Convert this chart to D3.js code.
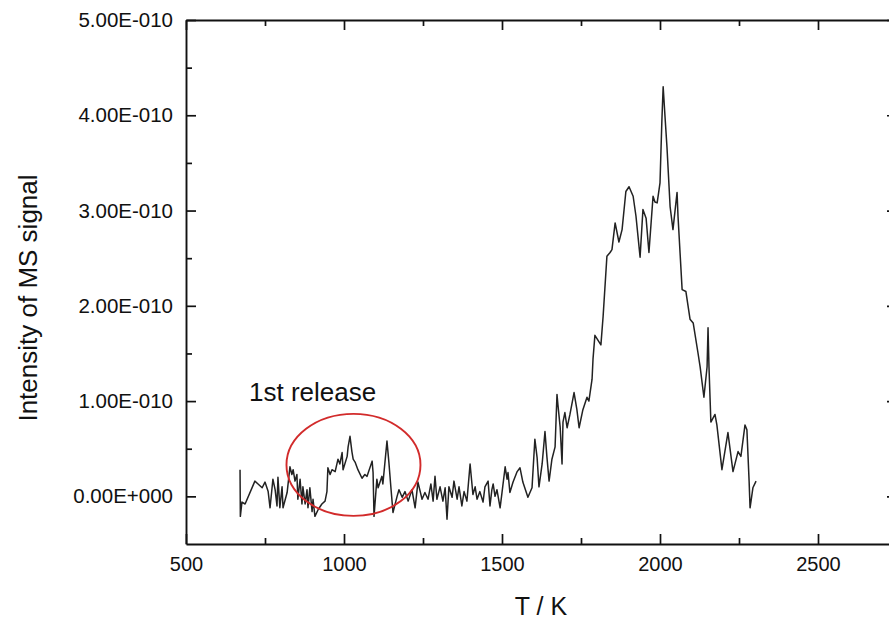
<!DOCTYPE html>
<html>
<head>
<meta charset="utf-8">
<script src="https://cdn.jsdelivr.net/npm/d3@7"></script>
<style>
  html, body { margin: 0; padding: 0; background: white; overflow: hidden; }
  text { font-family: "Liberation Sans", Arial, sans-serif; fill: #111; }
</style>
</head>
<body>
<div class="graph-container"></div>
<script>
// temperature (K)
var tempK = [671, 672, 677, 687, 718, 728, 741, 750, 760, 766, 775, 782, 788, 791, 797, 804, 807, 820, 829, 835,
  839, 845, 851, 854, 861, 867, 870, 877, 883, 886, 892, 899, 902, 908, 918, 930, 940, 946, 949, 956,
  962, 972, 981, 987, 994, 997, 1010, 1013, 1019, 1025, 1029, 1035, 1044, 1057, 1066, 1073, 1089, 1092, 1095, 1104,
  1108, 1120, 1123, 1136, 1142, 1149, 1155, 1168, 1174, 1184, 1193, 1203, 1215, 1225, 1234, 1247, 1256, 1266, 1275, 1282,
  1288, 1294, 1304, 1313, 1320, 1326, 1332, 1342, 1348, 1358, 1364, 1373, 1380, 1389, 1399, 1408, 1415, 1421, 1430, 1440,
  1446, 1456, 1462, 1468, 1472, 1478, 1484, 1494, 1500, 1510, 1516, 1519, 1525, 1535, 1548, 1557, 1566, 1582, 1595, 1604,
  1611, 1617, 1627, 1636, 1642, 1649, 1658, 1668, 1674, 1677, 1684, 1690, 1693, 1699, 1706, 1715, 1728, 1737, 1744, 1756,
  1769, 1775, 1785, 1788, 1794, 1813, 1820, 1832, 1842, 1848, 1858, 1870, 1880, 1892, 1902, 1915, 1924, 1937, 1946, 1956,
  1965, 1978, 1984, 1991, 1997, 2000, 2006, 2010, 2016, 2022, 2032, 2041, 2054, 2057, 2070, 2082, 2095, 2105, 2120, 2127,
  2139, 2149, 2152, 2155, 2161, 2174, 2180, 2196, 2215, 2231, 2247, 2256, 2269, 2275, 2282, 2285, 2294, 2304];

// MS signal, in units of 1E-010
var signal = [0.28, -0.21, -0.06, -0.08, 0.16, 0.13, 0.09, 0.15, 0.05, -0.12, 0.18, 0.07, -0.10, 0.20, -0.12, 0.10, -0.12, 0.04, 0.31, 0.23,
  0.28, 0.16, 0.23, -0.03, 0.18, -0.08, 0.10, -0.08, 0.07, -0.12, 0.09, -0.16, -0.03, -0.21, -0.14, -0.08, -0.05, 0.05, 0.30, 0.23,
  0.28, 0.26, 0.39, 0.34, 0.46, 0.28, 0.42, 0.52, 0.63, 0.47, 0.39, 0.36, 0.28, 0.19, 0.23, 0.21, 0.37, 0.25, -0.21, 0.18,
  0.09, 0.21, 0.13, 0.58, 0.36, 0.07, -0.17, 0.00, 0.07, -0.01, 0.05, -0.05, 0.07, -0.12, 0.15, -0.03, 0.04, -0.03, 0.13, -0.05,
  0.21, -0.03, 0.10, -0.05, 0.09, -0.24, 0.10, -0.01, 0.16, -0.03, 0.10, -0.10, 0.05, -0.05, 0.34, 0.02, 0.10, -0.03, 0.05, -0.06,
  0.10, 0.16, -0.10, 0.07, 0.13, 0.00, 0.07, -0.12, 0.04, 0.31, 0.18, 0.25, 0.04, 0.15, 0.26, 0.30, 0.15, -0.01, 0.09, 0.60,
  0.41, 0.10, 0.34, 0.68, 0.42, 0.16, 0.39, 0.52, 1.07, 0.96, 0.73, 0.34, 0.78, 0.88, 0.72, 0.86, 1.09, 0.91, 0.72, 0.91,
  1.04, 1.00, 1.23, 1.44, 1.69, 1.59, 1.89, 2.52, 2.56, 2.59, 2.87, 2.67, 2.80, 3.20, 3.25, 3.15, 2.94, 2.51, 3.01, 2.92,
  2.56, 3.15, 3.09, 3.08, 3.22, 3.29, 3.95, 4.30, 3.98, 3.67, 3.04, 2.80, 3.19, 2.94, 2.17, 2.15, 1.86, 1.82, 1.51, 1.36,
  1.04, 1.36, 1.77, 1.36, 0.78, 0.86, 0.75, 0.28, 0.67, 0.26, 0.47, 0.42, 0.75, 0.70, 0.16, -0.12, 0.09, 0.16];

var xTicks = [500, 1000, 1500, 2000, 2500];
var xMinorTicks = [750, 1250, 1750, 2250];
var yTicks = [0, 1, 2, 3, 4, 5];
var yMinorTicks = [0.5, 1.5, 2.5, 3.5, 4.5];

var width = 889, height = 619;

var svg = d3.select(".graph-container").append("svg")
    .attr("width", width)
    .attr("height", height)
    .style("display", "block");

var x = d3.scaleLinear().domain([500, 2750]).range([186, 897]);
var y = d3.scaleLinear().domain([-0.5, 5]).range([544, 20]);

// 5 -> "5.00E-010", 0 -> "0.00E+000"
function sci(d) {
    if (d === 0) return "0.00E+000";
    var parts = (d * 1e-10).toExponential(2).split("e");
    var exp = parseInt(parts[1], 10);
    var sign = exp < 0 ? "-" : "+";
    return parts[0] + "E" + sign + String(Math.abs(exp)).padStart(3, "0");
}

function styleAxis(g) {
    g.selectAll("path, line").attr("stroke", "#111").attr("stroke-width", 1.7);
    g.select(".domain").attr("stroke-width", 1.9);
}

//EJES
var xAxisGroup = svg.append("g")
    .attr("transform", "translate(0," + y(-0.5) + ")")
    .call(d3.axisBottom(x).tickValues(xTicks).tickSizeInner(-10).tickSizeOuter(0).tickPadding(13).tickFormat(d3.format("d")));
xAxisGroup.selectAll("text").attr("font-size", "20px").attr("font-family", "Liberation Sans, Arial, sans-serif");
styleAxis(xAxisGroup);

svg.append("g")
    .attr("transform", "translate(0," + y(-0.5) + ")")
    .call(d3.axisBottom(x).tickValues(xMinorTicks).tickSize(-6).tickFormat(""))
    .call(styleAxis)
    .select(".domain").remove();

svg.append("g")
    .attr("transform", "translate(0," + y(5) + ")")
    .call(d3.axisTop(x).tickValues(xTicks).tickSizeInner(-10).tickSizeOuter(0).tickFormat(""))
    .call(styleAxis);
svg.append("g")
    .attr("transform", "translate(0," + y(5) + ")")
    .call(d3.axisTop(x).tickValues(xMinorTicks).tickSize(-6).tickFormat(""))
    .call(styleAxis)
    .select(".domain").remove();

var yAxisGroup = svg.append("g")
    .attr("transform", "translate(" + x(500) + ",0)")
    .call(d3.axisLeft(y).tickValues(yTicks).tickSizeInner(-10).tickSizeOuter(0).tickPadding(13).tickFormat(sci));
yAxisGroup.selectAll("text").attr("font-size", "20.5px").attr("font-family", "Liberation Sans, Arial, sans-serif");
styleAxis(yAxisGroup);

svg.append("g")
    .attr("transform", "translate(" + x(500) + ",0)")
    .call(d3.axisLeft(y).tickValues(yMinorTicks).tickSize(-6).tickFormat(""))
    .call(styleAxis)
    .select(".domain").remove();

svg.append("g")
    .attr("transform", "translate(" + x(2750) + ",0)")
    .call(d3.axisRight(y).tickValues(yTicks).tickSizeInner(-10).tickSizeOuter(0).tickFormat(""))
    .call(styleAxis);
svg.append("g")
    .attr("transform", "translate(" + x(2750) + ",0)")
    .call(d3.axisRight(y).tickValues(yMinorTicks).tickSize(-6).tickFormat(""))
    .call(styleAxis)
    .select(".domain").remove();

//TITULOS
svg.append("text")
    .attr("x", 541)
    .attr("y", 615)
    .attr("text-anchor", "middle")
    .attr("font-size", "25px")
    .text("T / K");

svg.append("text")
    .attr("transform", "translate(37,298) rotate(-90)")
    .attr("text-anchor", "middle")
    .attr("font-size", "26px")
    .text("Intensity of MS signal");

//LINEA
var line = d3.line()
    .x((d, i) => x(tempK[i]))
    .y(d => y(d));

svg.append("path")
    .datum(signal)
    .attr("fill", "none")
    .attr("stroke", "#222")
    .attr("stroke-width", 1.5)
    .attr("stroke-linejoin", "round")
    .attr("d", line);

//ANOTACION
svg.append("text")
    .attr("x", 249)
    .attr("y", 401)
    .attr("font-size", "26px")
    .text("1st release");

svg.append("ellipse")
    .attr("cx", x(1030))
    .attr("cy", y(0.33))
    .attr("rx", 67)
    .attr("ry", 51)
    .attr("fill", "none")
    .attr("stroke", "#d22b2b")
    .attr("stroke-width", 1.9);
</script>
</body>
</html>
